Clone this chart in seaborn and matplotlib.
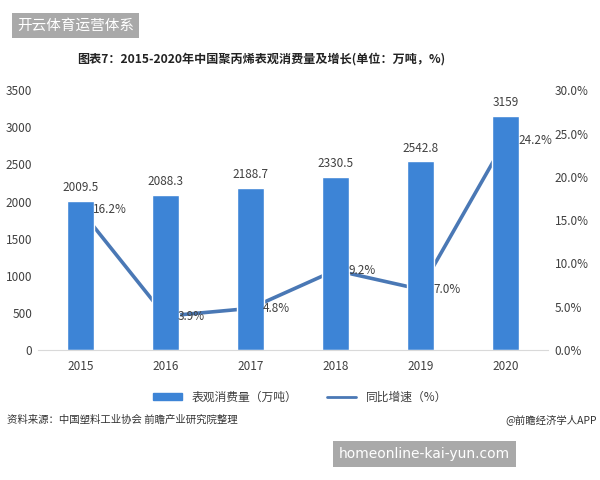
import numpy as np
import seaborn as sns
import matplotlib.pyplot as plt
from matplotlib.patches import Patch
from matplotlib.lines import Line2D

years = ['2015', '2016', '2017', '2018', '2019', '2020']
consumption = [2009.5, 2088.3, 2188.7, 2330.5, 2542.8, 3159]
growth = [16.2, 3.9, 4.8, 9.2, 7.0, 24.2]

sns.set_style('white')
plt.rcParams['font.family'] = ['Noto Sans CJK SC', 'DejaVu Sans']

bar_color = '#3d84d6'
line_color = '#4a78b5'
text_color = '#404040'

fig = plt.figure(figsize=(6, 4.8), dpi=100)
ax = fig.add_axes([0.063, 0.271, 0.85, 0.541])
ax2 = ax.twinx()

sns.barplot(x=years, y=consumption, color=bar_color, width=0.32,
            saturation=1, ax=ax)
sns.lineplot(x=np.arange(len(years)), y=growth, color=line_color,
             linewidth=2.6, ax=ax2)

# bars drawn over the line
ax.set_zorder(ax2.get_zorder() + 1)
ax.patch.set_visible(False)

ax.set_xlim(-0.5, len(years) - 0.5)
ax.set_ylim(0, 3500)
ax.set_yticks(range(0, 3501, 500))
ax2.set_ylim(0, 30)
ax2.set_yticks(range(0, 31, 5))
ax2.set_yticklabels([f'{v:.1f}%' for v in range(0, 31, 5)])

for a in (ax, ax2):
    for s in a.spines.values():
        s.set_visible(False)
    a.tick_params(length=0, labelsize=8.5, colors=text_color)
    a.set_xlabel('')
    a.set_ylabel('')
ax.spines['bottom'].set_visible(True)
ax.spines['bottom'].set_color('#d9d9d9')
ax.tick_params(axis='y', pad=4)
ax.tick_params(axis='x', pad=7)
ax2.tick_params(axis='y', pad=5)

for i, v in enumerate(consumption):
    ax.text(i, v + 90, f'{v:g}', ha='center', va='bottom', fontsize=8.5,
            color=text_color)
for i, v in enumerate(growth):
    ax.text(i + 0.15, v / 30 * 3500, f'{v:.1f}%', ha='left', va='center',
            fontsize=8.5, color=text_color, zorder=5)

fig.text(0.435, 0.877, '图表7：2015-2020年中国聚丙烯表观消费量及增长(单位：万吨，%)',
         ha='center', va='center', fontsize=8.7, fontweight='bold', color='#222222')

# legend
handles = [Patch(color=bar_color), Line2D([0], [0], color=line_color, lw=2)]
fig.legend(handles, ['表观消费量（万吨）', '同比增速（%）'], loc='center',
           bbox_to_anchor=(0.5, 0.172), ncol=2, frameon=False, fontsize=8.5,
           handlelength=2.5, handleheight=0.5, columnspacing=2.5,
           labelcolor=text_color)

fig.text(0.012, 0.126, '资料来源：中国塑料工业协会 前瞻产业研究院整理', ha='left',
         va='center', fontsize=7.5, color='#333333')
fig.text(0.995, 0.126, '@前瞻经济学人APP', ha='right', va='center',
         fontsize=7.5, color='#333333')

fig.text(0.028, 0.947, '开云体育运营体系', ha='left', va='center', fontsize=10.5,
         color='white', bbox=dict(boxstyle='square,pad=0.35', fc='#a9a9a9', ec='none'))
fig.text(0.565, 0.054, 'homeonline-kai-yun.com', ha='left', va='center',
         fontsize=10, color='white', family=['DejaVu Sans'],
         bbox=dict(boxstyle='square,pad=0.45', fc='#a9a9a9', ec='none'))

fig.savefig('out.png', dpi=100)
